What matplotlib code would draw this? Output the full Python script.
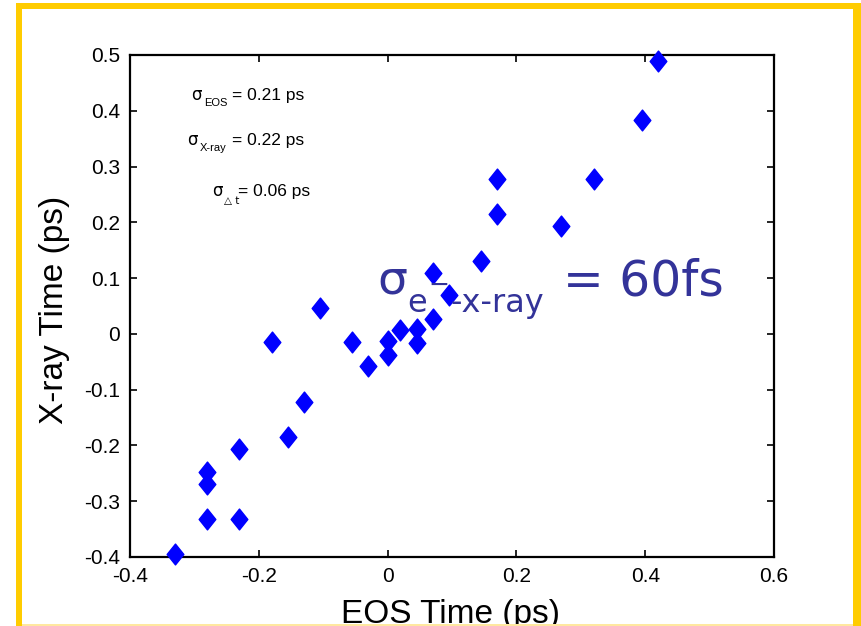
import matplotlib
matplotlib.use("Agg")
import matplotlib.pyplot as plt
from matplotlib.path import Path
from matplotlib.patches import Rectangle

# ---- data ----
eos_time = [0.42, 0.395, 0.32, 0.27, 0.17, 0.17, 0.145, 0.07, 0.095, 0.07,
            0.045, 0.045, 0.02, 0.0, 0.0, -0.03, -0.055, -0.105, -0.18,
            -0.13, -0.155, -0.23, -0.28, -0.28, -0.28, -0.23, -0.33]
xray_time = [0.490, 0.384, 0.278, 0.194, 0.278, 0.215, 0.130, 0.110, 0.069, 0.026,
             0.008, -0.016, 0.007, -0.012, -0.037, -0.057, -0.015, 0.046, -0.015,
             -0.122, -0.184, -0.206, -0.247, -0.269, -0.331, -0.331, -0.394]
x_ticks = [-0.4, -0.2, 0, 0.2, 0.4, 0.6]
x_ticklabels = ["-0.4", "-0.2", "0", "0.2", "0.4", "0.6"]
y_ticks = [-0.4, -0.3, -0.2, -0.1, 0, 0.1, 0.2, 0.3, 0.4, 0.5]
y_ticklabels = ["-0.4", "-0.3", "-0.2", "-0.1", "0", "0.1", "0.2", "0.3", "0.4", "0.5"]

W, H = 862, 626
fig = plt.figure(figsize=(W / 100, H / 100), dpi=100)
fig.patch.set_facecolor("white")

def fx(px):
    return px / W

def fy(py):
    return 1 - py / H

ax = fig.add_axes([fx(130), fy(557), fx(774) - fx(130), fy(55) - fy(557)])

diamond = Path([(0, 1), (0.8, 0), (0, -1), (-0.8, 0), (0, 1)],
               [Path.MOVETO, Path.LINETO, Path.LINETO, Path.LINETO, Path.CLOSEPOLY])
ax.plot(eos_time, xray_time, linestyle="none", marker=diamond, markersize=15,
        color="#0000FF", markeredgecolor="#0000FF", zorder=3, clip_on=False)

ax.set_xlim(-0.4, 0.6)
ax.set_ylim(-0.4, 0.5)
ax.set_xticks(x_ticks)
ax.set_xticklabels(x_ticklabels)
ax.set_yticks(y_ticks)
ax.set_yticklabels(y_ticklabels)
tick_font = "Liberation Sans"
ax.tick_params(direction="in", length=5, width=1.2, top=True, right=True,
               labelsize=15, pad=7)
for lab in ax.get_xticklabels() + ax.get_yticklabels():
    lab.set_family(tick_font)
for sp in ax.spines.values():
    sp.set_linewidth(1.6)

fig.text(fx(451), fy(623), "EOS Time (ps)", ha="center", va="baseline",
         fontsize=24, family=tick_font)
fig.text(fx(55), fy(310), "X-ray Time (ps)", ha="center", va="center",
         rotation=90, fontsize=24, family=tick_font)

# small annotations
def put(px, py, s, size, **kw):
    fig.text(fx(px), fy(py), s, ha="left", va="baseline", fontsize=size,
             family=kw.pop("family", tick_font), **kw)

put(191, 100, "σ", 12, family="DejaVu Sans")
put(204, 106, "EOS", 8)
put(232, 100, "= 0.21 ps", 12.5)
put(187, 145, "σ", 12, family="DejaVu Sans")
put(200, 151, "X-ray", 8)
put(232, 145, "= 0.22 ps", 12.5)
put(212, 196, "σ", 12, family="DejaVu Sans")
put(224, 204, "△ t", 7.5, family="DejaVu Sans")
put(238, 196, "= 0.06 ps", 12.5)

# big annotation
c = "#333399"
put(377, 294, "σ", 34, family="DejaVu Sans", color=c, zorder=5)
put(407, 312, "e", 23, family="DejaVu Sans", color=c, zorder=5)
put(428, 292, "−", 18, family="DejaVu Sans", color=c, zorder=5)
put(451, 312, "-x-ray", 23, family="DejaVu Sans", color=c, zorder=5)
put(563, 295, "= 60fs", 35, family="DejaVu Sans", color=c, zorder=5)

# yellow frame
yellow = "#FFCC00"
fig.patches.append(Rectangle((fx(16), 0), fx(6), fy(3), transform=fig.transFigure,
                             facecolor=yellow, edgecolor="none", zorder=10))
fig.patches.append(Rectangle((fx(16), fy(9)), 1, fy(3) - fy(9), transform=fig.transFigure,
                             facecolor=yellow, edgecolor="none", zorder=10))
fig.patches.append(Rectangle((fx(853), 0), 1, fy(3), transform=fig.transFigure,
                             facecolor=yellow, edgecolor="none", zorder=10))
fig.patches.append(Rectangle((fx(22), fy(626)), fx(831), fy(624) - fy(626),
                             transform=fig.transFigure,
                             facecolor="#FFE8A0", edgecolor="none", zorder=10))

fig.savefig("out.png", dpi=100, facecolor="white")
